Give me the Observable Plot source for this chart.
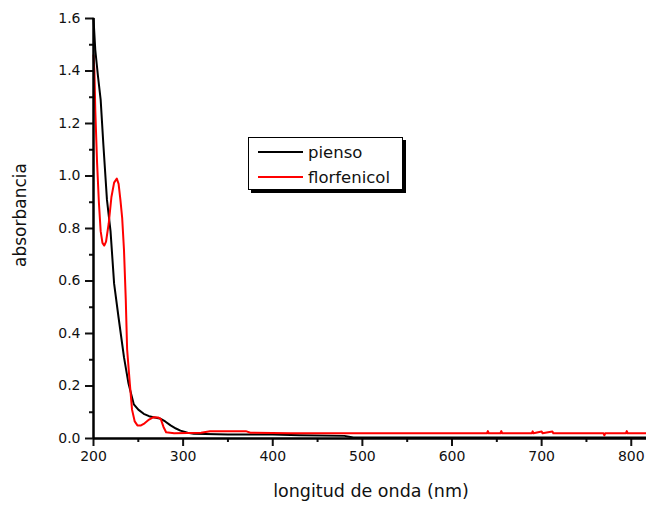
<!DOCTYPE html>
<html><head><meta charset="utf-8">
<script src="https://cdn.jsdelivr.net/npm/d3@7"></script>
<script src="https://cdn.jsdelivr.net/npm/@observablehq/plot@0.6"></script>
<style>
body{margin:0;background:#fff;font-family:"DejaVu Sans",sans-serif;}
#wrap{position:relative;width:646px;height:507px;}
#legend{position:absolute;left:248px;top:137px;width:153px;height:51px;border:1.5px solid #000;box-shadow:3px 3px 0 #000;background:#fff;font-size:16.5px;color:#111;}
.row{position:absolute;left:9px;height:20px;display:flex;align-items:center;}
.sw{display:inline-block;width:45px;height:2px;margin-right:5px;}
</style></head><body>
<div id="wrap"></div>
<script>
const piensoX = [200,202,205,208,211,215,219,223,228,234,239,245,250,256,262,267,275,280,286,292,297,305,312,350,400,430,480,490,820];
const piensoY = [1.60,1.48,1.38,1.29,1.12,0.91,0.79,0.59,0.46,0.31,0.21,0.13,0.11,0.094,0.085,0.081,0.075,0.065,0.05,0.038,0.03,0.022,0.018,0.015,0.015,0.012,0.01,0.004,0.004];
const florX = [200,201,202,204,206,208,210,212,214,217,220,223,226,228,230,232,234,236,237.5,240.5,243,246,249,253,257,262,267,272,275,278,281,290,320,330,370,375,420,500,600,630,639,640,641,654,655,656,689,690,691,700,701,712,713,769,770,771,794,795,796,820];
const florY = [1.46,1.40,1.25,1.05,0.90,0.79,0.745,0.735,0.75,0.82,0.92,0.975,0.99,0.97,0.91,0.84,0.72,0.53,0.34,0.21,0.11,0.065,0.05,0.05,0.058,0.072,0.081,0.08,0.075,0.045,0.024,0.02,0.022,0.028,0.028,0.022,0.02,0.02,0.02,0.02,0.02,0.028,0.02,0.02,0.028,0.02,0.02,0.027,0.02,0.027,0.02,0.027,0.02,0.02,0.012,0.02,0.02,0.028,0.02,0.02];
const seriesNames = ["pienso","florfenicol"];
const seriesColors = ["#000000","#ff0000"];
const xTicks = [200,300,400,500,600,700,800];
const yTicks = [0,0.2,0.4,0.6,0.8,1.0,1.2,1.4,1.6];

const pienso = piensoX.map((x,i)=>({x,y:piensoY[i]}));
const flor = florX.map((x,i)=>({x,y:florY[i]}));
const xMinor = d3.range(250,820,100);
const yMinor = d3.range(0.1,1.6,0.2);

const chart = Plot.plot({
  width:646, height:507,
  marginLeft:93, marginTop:18, marginBottom:69, marginRight:0,
  style:{fontFamily:"DejaVu Sans, sans-serif", fontSize:"14px", color:"#111"},
  x:{domain:[200,817]},
  y:{domain:[0,1.6]},
  marks:[
    Plot.axisX({ticks:xTicks, tickSize:8, tickPadding:5, label:null, fontSize:14, strokeWidth:2}),
    Plot.axisX({ticks:xMinor, tickSize:4, text:null, label:null, strokeWidth:2}),
    Plot.axisY({ticks:yTicks, tickSize:8, tickPadding:5, tickFormat:d3.format(".1f"), label:null, fontSize:14, strokeWidth:2}),
    Plot.axisY({ticks:yMinor, tickSize:4, text:null, label:null, strokeWidth:2}),
    Plot.line(pienso,{x:"x",y:"y",stroke:seriesColors[0],strokeWidth:2}),
    Plot.line(flor,{x:"x",y:"y",stroke:seriesColors[1],strokeWidth:2}),
    Plot.ruleX([200],{stroke:"#000",strokeWidth:2.5}),
    Plot.ruleY([0],{stroke:"#000",strokeWidth:2.5})
  ]
});
const wrap = document.getElementById("wrap");
wrap.appendChild(chart);

const yl = document.createElement("div");
yl.textContent = "absorbancia";
yl.style.cssText = "position:absolute;left:20px;top:215px;transform:translate(-50%,-50%) rotate(-90deg);font-size:17px;color:#111;white-space:nowrap;";
wrap.appendChild(yl);
const xl = document.createElement("div");
xl.textContent = "longitud de onda (nm)";
xl.style.cssText = "position:absolute;left:371px;top:491px;transform:translate(-50%,-50%);font-size:17.5px;color:#111;white-space:nowrap;";
wrap.appendChild(xl);

const lg = document.createElement("div");
lg.id = "legend";
seriesNames.forEach((n,i)=>{
  const r = document.createElement("div");
  r.className = "row";
  r.style.top = (4 + i*25) + "px";
  const sw = document.createElement("span");
  sw.className = "sw";
  sw.style.backgroundColor = seriesColors[i];
  const t = document.createElement("span");
  t.textContent = n;
  r.appendChild(sw);
  r.appendChild(t);
  lg.appendChild(r);
});
wrap.appendChild(lg);
</script>
</body></html>
